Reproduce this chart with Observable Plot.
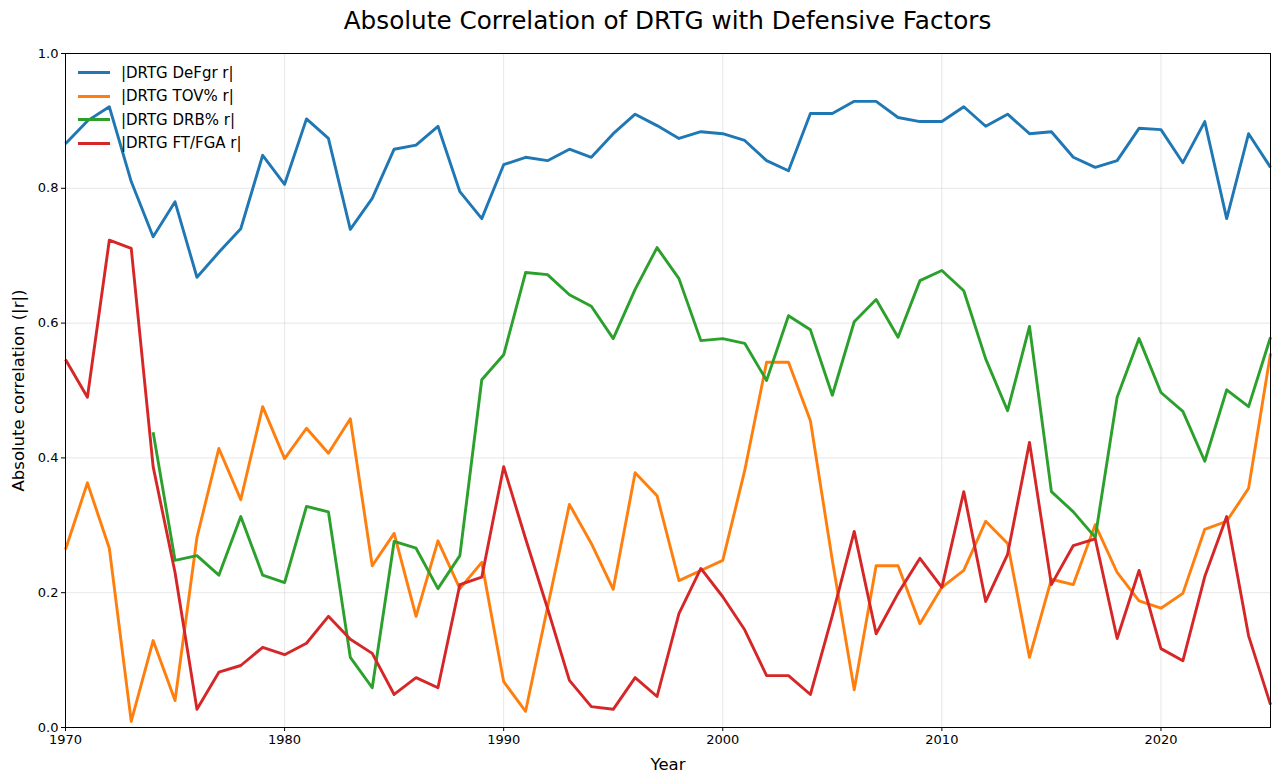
<!DOCTYPE html>
<html>
<head>
<meta charset="utf-8">
<script src="https://cdn.jsdelivr.net/npm/d3@7"></script>
<script src="https://cdn.jsdelivr.net/npm/@observablehq/plot@0.6"></script>
<style>
  html, body { margin: 0; padding: 0; background: #fff; }
  body { width: 1280px; height: 783px; position: relative; overflow: hidden; font-family: "DejaVu Sans", sans-serif; }
  #title { height: 40px; line-height: 42px; margin-left: 65px; width: 1205px; text-align: center; font-size: 24.7px; color: #000; white-space: nowrap; }
  #legend { position: absolute; left: 78px; top: 61px; font-size: 15px; color: #000; }
  #legend .row { height: 23.5px; display: flex; align-items: center; }
  #legend .sw { width: 32px; height: 3px; margin-right: 11px; }
</style>
</head>
<body>
<div id="title">Absolute Correlation of DRTG with Defensive Factors</div>
<div id="chart"></div>
<div id="legend"></div>
<script>
const years = d3.range(1970, 2026);
const seriesNames = ["|DRTG DeFgr r|", "|DRTG TOV% r|", "|DRTG DRB% r|", "|DRTG FT/FGA r|"];
const seriesColors = ["#1f77b4", "#ff7f0e", "#2ca02c", "#d62728"];

const defgr = [0.866,0.90,0.921,0.81,0.728,0.78,0.668,0.705,0.74,0.849,
               0.806,0.903,0.874,0.739,0.785,0.858,0.864,0.892,0.795,0.755,
               0.835,0.846,0.841,0.858,0.846,0.881,0.91,0.893,0.874,0.884,
               0.881,0.871,0.841,0.826,0.911,0.911,0.929,0.929,0.905,0.899,
               0.899,0.921,0.892,0.91,0.881,0.884,0.846,0.831,0.841,0.889,
               0.887,0.838,0.899,0.755,0.881,0.831];
const tov   = [0.264,0.363,0.266,0.009,0.129,0.04,0.282,0.414,0.338,0.476,
               0.399,0.444,0.407,0.458,0.24,0.288,0.165,0.277,0.206,0.245,
               0.068,0.024,0.178,0.331,0.273,0.205,0.378,0.344,0.218,0.233,
               0.248,0.381,0.542,0.542,0.455,0.248,0.056,0.24,0.24,0.154,
               0.208,0.233,0.306,0.273,0.104,0.22,0.212,0.301,0.23,0.188,
               0.177,0.199,0.294,0.306,0.355,0.555];
const drb   = [null,null,null,null,0.438,0.248,0.255,0.226,0.313,0.226,
               0.215,0.328,0.32,0.104,0.059,0.276,0.266,0.206,0.255,0.516,
               0.553,0.675,0.672,0.642,0.625,0.577,0.65,0.712,0.666,0.574,
               0.577,0.57,0.515,0.611,0.59,0.493,0.602,0.635,0.579,0.663,
               0.678,0.648,0.547,0.47,0.595,0.35,0.32,0.282,0.49,0.577,
               0.497,0.469,0.395,0.501,0.476,0.579];
const ftfga = [0.546,0.49,0.723,0.711,0.387,0.23,0.027,0.082,0.092,0.119,
               0.108,0.125,0.165,0.131,0.11,0.049,0.074,0.059,0.212,0.223,
               0.387,0.28,0.177,0.07,0.031,0.027,0.074,0.046,0.169,0.236,
               0.194,0.145,0.077,0.077,0.049,0.166,0.291,0.139,0.199,0.251,
               0.208,0.35,0.187,0.257,0.423,0.212,0.27,0.28,0.132,0.233,
               0.117,0.099,0.224,0.313,0.136,0.034];
const xTicks = [1970, 1980, 1990, 2000, 2010, 2020];
const yTicks = [0, 0.2, 0.4, 0.6, 0.8, 1.0];

const allSeries = [defgr, tov, drb, ftfga];
const data = [];
allSeries.forEach((vals, i) => {
  years.forEach((yr, j) => {
    data.push({year: yr, value: vals[j] == null ? NaN : vals[j], series: seriesNames[i]});
  });
});

const chart = Plot.plot({
  width: 1280,
  height: 743,
  marginTop: 13,
  marginBottom: 56,
  marginLeft: 65,
  marginRight: 10,
  style: {fontFamily: "DejaVu Sans, sans-serif", fontSize: "13px", color: "#000", background: "#fff"},
  x: {domain: [1970, 2025]},
  y: {domain: [0, 1]},
  color: {domain: seriesNames, range: seriesColors},
  marks: [
    Plot.gridX(xTicks, {stroke: "#b0b0b0", strokeOpacity: 0.3, strokeWidth: 1}),
    Plot.gridY(yTicks, {stroke: "#b0b0b0", strokeOpacity: 0.3, strokeWidth: 1}),
    Plot.line(data, {x: "year", y: "value", z: "series", stroke: "series", strokeWidth: 2.9, strokeLinejoin: "round", strokeLinecap: "butt"}),
    Plot.axisX({ticks: xTicks, tickFormat: d => String(d), tickSize: 4, tickPadding: 3, fontSize: 13, label: null}),
    Plot.axisY({ticks: yTicks, tickFormat: d3.format(".1f"), tickSize: 4, tickPadding: 3, fontSize: 13, label: null}),
    Plot.frame({stroke: "#000", strokeWidth: 1}),
    Plot.text(["Year"], {text: d => d, frameAnchor: "bottom", dy: 37, lineAnchor: "middle", fontSize: 16.5}),
    Plot.text(["Absolute correlation (|r|)"], {text: d => d, frameAnchor: "left", dx: -47, rotate: -90, textAnchor: "middle", lineAnchor: "middle", fontSize: 16.5})
  ]
});
document.getElementById("chart").appendChild(chart);

const legend = document.getElementById("legend");
seriesNames.forEach((name, i) => {
  const row = document.createElement("div");
  row.className = "row";
  const sw = document.createElement("span");
  sw.className = "sw";
  sw.style.background = seriesColors[i];
  const label = document.createElement("span");
  label.textContent = name;
  row.appendChild(sw);
  row.appendChild(label);
  legend.appendChild(row);
});
</script>
</body>
</html>
